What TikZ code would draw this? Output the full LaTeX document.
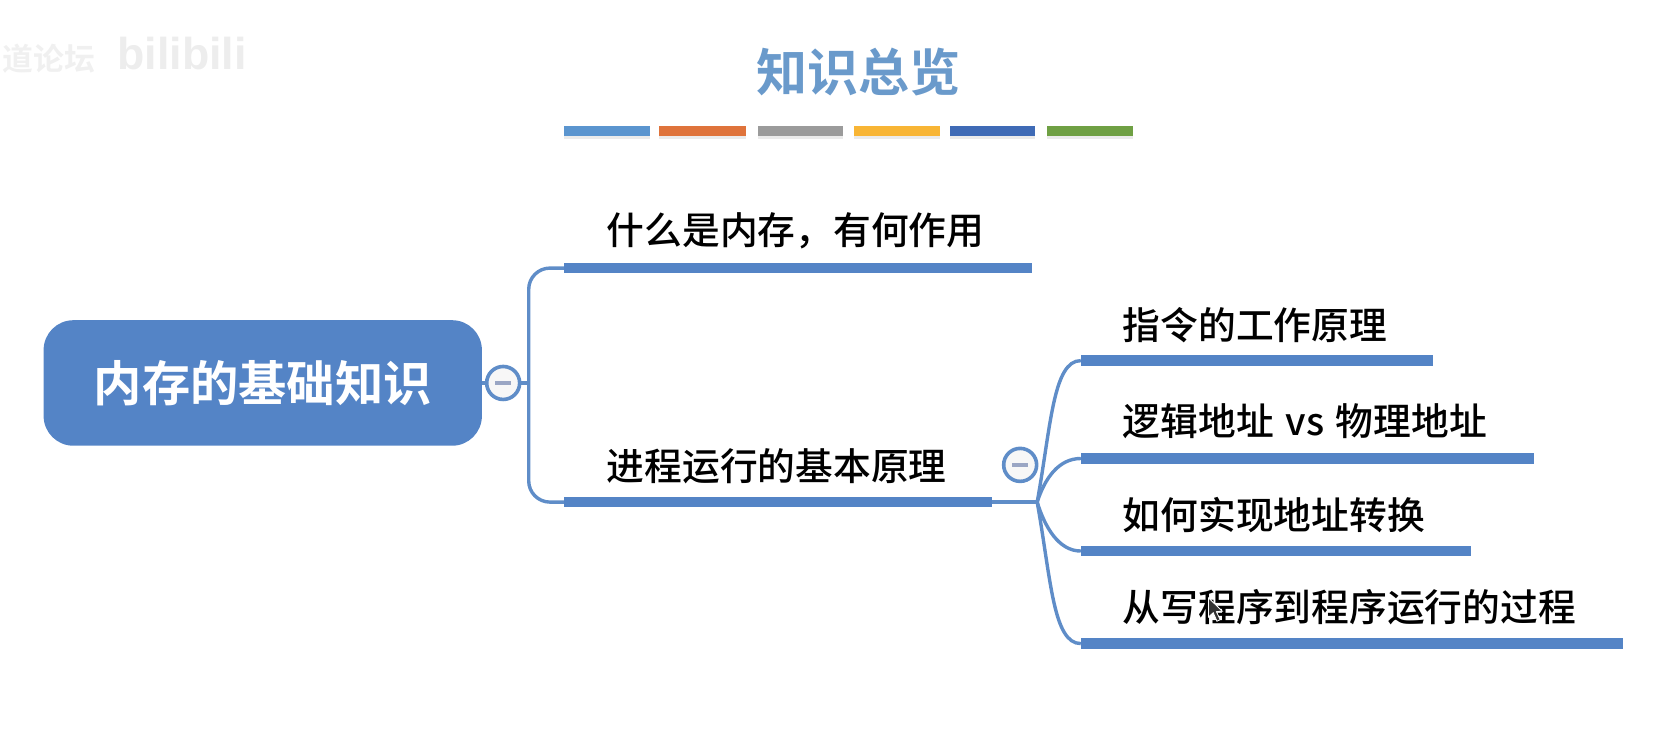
\documentclass[tikz,border=0pt]{standalone}
\usepackage{fontspec}
\setmainfont{Liberation Sans}
\newfontfamily\cjk{Noto Sans CJK SC Medium}
\newfontfamily\cjkb{Noto Sans CJK SC Bold}
\definecolor{mainblue}{HTML}{5484C6}
\definecolor{lineblue}{HTML}{5F8DC8}
\definecolor{titleblue}{HTML}{6A9ACB}
\definecolor{minusc}{HTML}{9AA6C4}
\tikzset{
  x=0.5pt,y=-0.5pt,
  branchbar/.style={fill=mainblue,draw=none,inner sep=0pt,minimum height=5pt,anchor=west},
  subbar/.style={fill=mainblue,draw=none,inner sep=0pt,minimum height=5pt,anchor=west},
  link/.style={draw=lineblue,line width=1.6pt},
  item/.style={anchor=west,inner sep=0pt,font=\cjk\fontsize{17.75}{20}\selectfont,text=black},
  collapse/.style={circle,draw=lineblue,line width=1.7pt,fill=black!3,minimum size=15.5pt,inner sep=0pt},
  palette/.style={inner sep=0pt,minimum height=5pt,anchor=west,draw=none},
  palshadow/.style={inner sep=0pt,minimum height=5pt,anchor=west,draw=none,fill=black!8},
}
\begin{document}
\begin{tikzpicture}
\useasboundingbox (0,0) rectangle (1568,691);
% watermark
\node[anchor=west,inner sep=0pt,text=black!6,font=\cjkb\fontsize{14.5}{16}\selectfont] (wm1) at (2,55) {道论坛};
\node[anchor=west,inner sep=0pt,text=black!7,font=\bfseries\fontsize{21}{24}\selectfont] (wm2) at (110,50) {bilibili};
% title
\node[inner sep=0pt,text=titleblue,font=\cjkb\fontsize{24}{28}\selectfont] (title) at (807,68) {知识总览};
% palette
\foreach \n/\a/\w/\c in {a/530/81/5B95CF,b/619/82/DF733B,c/712/80/9B9B9B,d/802/81/F8B535,e/893/80/3F6BB6,f/984/81/6FA044}{
  \definecolor{pc}{HTML}{\c}
  \node[palshadow,minimum width=\w*0.5pt] (s\n) at (\a,126) {};
  \node[palette,fill=pc,minimum width=\w*0.5pt] (p\n) at (\a,123) {};
}
% root
\node[fill=mainblue,rounded corners=14pt,minimum width=206pt,minimum height=59pt,inner sep=0pt,text=white,font=\cjkb\fontsize{22.7}{26}\selectfont] (root) at (247,360) {\raisebox{-1pt}{内存的基础知识}};
% branches
\node[branchbar,minimum width=220pt] (b1) at (530,252) {};
\node[branchbar,minimum width=201pt] (b2) at (530,472) {};
\node[item] (t1) at (570,217) {什么是内存，有何作用};
\node[item] (t2) at (570,438) {进程运行的基本原理};
% sub bars
\node[subbar,minimum width=165.5pt] (c1) at (1016,339) {};
\node[subbar,minimum width=213pt] (c2) at (1016,431) {};
\node[subbar,minimum width=183pt] (c3) at (1016,518) {};
\node[subbar,minimum width=254.5pt] (c4) at (1016,605) {};
\node[item] (u1) at (1055,306) {指令的工作原理};
\node[item] (u2) at (1055,396) {逻辑地址\hspace{1.5pt} vs \hspace{1.5pt}物理地址};
\node[item] (u3) at (1055,484) {如何实现地址转换};
\node[item] (u4) at (1055,571) {从写程序到程序运行的过程};
% connectors
\coordinate (trunk) at (497,360);
\coordinate (hub) at (975,472);
\draw[link] (root.east) -- (trunk);
\draw[link,rounded corners=10pt] (b1.west) -| (trunk) |- (b2.west);
\draw[link] (b2.east) -- (hub);
\draw[link] (hub) .. controls (988,400) and (990,339) .. (c1.west);
\draw[link] (hub) .. controls (982,450) and (995,431) .. (c2.west);
\draw[link] (hub) .. controls (982,495) and (995,518) .. (c3.west);
\draw[link] (hub) .. controls (988,545) and (990,605) .. (c4.west);
% collapse buttons
\node[collapse] (m1) at (473,360) {};
\node[collapse] (m2) at (959,437) {};
\draw[minusc,line width=1.6pt] ([xshift=-3.7pt]m1.center) -- ([xshift=3.7pt]m1.center);
\draw[minusc,line width=1.6pt] ([xshift=-3.7pt]m2.center) -- ([xshift=3.7pt]m2.center);
% mouse pointer
\fill[black!80,draw=white,line width=0.4pt] (1136,562) -- (1136,580) -- (1140.5,576) -- (1144,584) -- (1147,582.5) -- (1143.5,575) -- (1149,574.5) -- cycle;
\end{tikzpicture}
\end{document}
